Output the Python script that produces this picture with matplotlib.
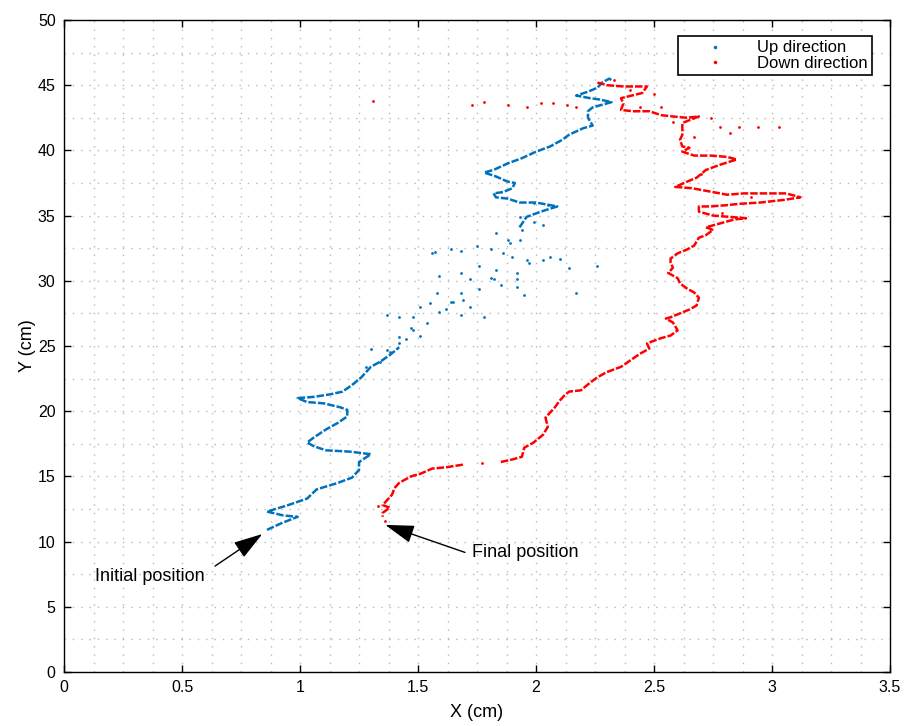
import matplotlib.pyplot as plt
from matplotlib.lines import Line2D

plt.rcParams["font.family"] = ["Liberation Sans", "DejaVu Sans"]

BLUE = "#0072BD"
RED = "#FF0000"

# --- Up direction: continuous parts of the track ---
up_low_x = [0.86, 0.92, 0.99, 0.93, 0.86, 0.95, 1.03, 1.07, 1.16, 1.22, 1.25, 1.25,
            1.30, 1.21, 1.11, 1.06, 1.03, 1.06, 1.11, 1.16, 1.20, 1.20, 1.17, 1.10,
            1.03, 0.99, 1.06, 1.13, 1.18, 1.22, 1.26, 1.30, 1.34, 1.38, 1.42]
up_low_y = [10.9, 11.4, 11.9, 12.0, 12.3, 12.8, 13.3, 14.0, 14.5, 14.9, 15.5, 16.1,
            16.7, 16.9, 17.0, 17.3, 17.6, 18.0, 18.6, 19.1, 19.6, 20.1, 20.3, 20.6,
            20.7, 21.0, 21.1, 21.3, 21.5, 22.0, 22.6, 23.4, 23.8, 24.3, 24.9]

up_high_x = [1.93, 1.96, 2.02, 2.09, 2.00, 1.93, 1.88, 1.83, 1.82, 1.86, 1.90, 1.91,
             1.88, 1.83, 1.78, 1.82, 1.88, 1.94, 2.00, 2.06, 2.11, 2.14, 2.20, 2.24,
             2.22, 2.22, 2.24, 2.30, 2.32, 2.27, 2.23, 2.17, 2.22, 2.26, 2.28, 2.31, 2.32]
up_high_y = [34.1, 34.9, 35.3, 35.7, 36.0, 36.0, 36.3, 36.4, 36.7, 36.8, 37.1, 37.5,
             37.6, 38.0, 38.3, 38.5, 39.0, 39.4, 39.9, 40.3, 40.8, 41.2, 41.7, 41.9,
             42.5, 43.0, 43.3, 43.6, 43.7, 43.9, 44.0, 44.2, 44.5, 44.8, 45.2, 45.5, 45.4]

# --- Up direction: scattered samples ---
up_spread_x = [1.37, 1.38, 1.42, 1.45, 1.47, 1.48, 1.42, 1.51, 1.54, 1.48, 1.42, 1.37,
               1.51, 1.55, 1.59, 1.68, 1.72, 1.78, 1.64, 1.58, 1.68, 1.76, 1.85, 1.92,
               1.95, 1.72, 1.81, 1.68, 1.59, 1.76, 1.83, 1.92, 2.14, 2.26, 2.17, 1.96,
               2.03, 2.10, 1.90, 1.86, 1.81, 1.75, 1.56, 1.64, 1.68, 1.88, 1.93, 1.83,
               1.94, 1.99, 2.03, 1.93, 2.05, 1.99, 1.57, 1.65, 1.69, 1.82, 1.92, 1.62,
               1.30, 1.34, 1.28, 1.97, 1.89, 2.06]
up_spread_y = [24.7, 24.5, 25.2, 25.5, 26.4, 26.2, 25.7, 25.8, 26.8, 27.2, 27.2, 27.4,
               28.0, 28.3, 27.6, 27.4, 28.0, 27.2, 28.4, 29.1, 29.1, 29.4, 29.7, 29.5,
               28.9, 30.1, 30.2, 30.6, 30.4, 31.1, 30.8, 30.6, 31.0, 31.1, 29.1, 31.6,
               31.6, 31.7, 31.8, 32.1, 32.4, 32.7, 32.1, 32.4, 32.3, 33.1, 33.1, 33.7,
               33.9, 34.5, 34.3, 34.9, 35.8, 36.0, 32.2, 28.4, 28.5, 30.1, 30.1, 27.8,
               24.8, 23.8, 23.4, 31.4, 32.9, 31.8]

# --- Down direction: continuous parts of the track ---
down_high_x = [2.26, 2.30, 2.37, 2.43, 2.47, 2.45, 2.36, 2.37, 2.36, 2.41, 2.48, 2.53,
               2.58, 2.64, 2.69, 2.62, 2.62, 2.61, 2.62, 2.65, 2.62, 2.67, 2.74, 2.81,
               2.85, 2.78, 2.72, 2.68, 2.64, 2.59, 2.66, 2.75, 2.81, 2.88, 2.98, 3.06,
               3.12, 3.05, 2.95, 2.86, 2.81, 2.74, 2.69, 2.69, 2.75, 2.82, 2.89, 2.84,
               2.78, 2.72, 2.75, 2.72, 2.69, 2.67, 2.64, 2.60, 2.57, 2.57, 2.58, 2.56,
               2.60, 2.61, 2.64, 2.67, 2.69, 2.68, 2.65, 2.61, 2.57, 2.55, 2.58, 2.60,
               2.57, 2.53, 2.47, 2.48, 2.44, 2.40, 2.36, 2.30, 2.26, 2.23, 2.19, 2.14,
               2.12, 2.10, 2.08, 2.06, 2.04, 2.05, 2.03, 1.99, 1.95, 1.94, 1.90, 1.85]
down_high_y = [45.2, 45.0, 44.9, 44.9, 44.9, 44.4, 44.0, 43.6, 43.1, 43.0, 43.0, 42.7,
               42.6, 42.5, 42.6, 42.1, 41.2, 40.8, 40.3, 40.2, 39.9, 39.6, 39.6, 39.5,
               39.3, 38.9, 38.5, 37.9, 37.6, 37.2, 37.1, 36.8, 36.6, 36.7, 36.7, 36.7,
               36.4, 36.2, 36.0, 35.9, 35.8, 35.7, 35.7, 35.3, 35.0, 34.9, 34.8, 34.7,
               34.4, 34.1, 33.9, 33.5, 33.3, 32.7, 32.4, 32.1, 31.7, 31.4, 31.0, 30.6,
               30.2, 29.8, 29.4, 29.1, 28.7, 28.1, 27.8, 27.5, 27.2, 27.1, 26.8, 26.2,
               25.8, 25.6, 25.2, 24.8, 24.4, 23.9, 23.4, 23.0, 22.6, 22.2, 21.6, 21.5,
               21.2, 20.8, 20.3, 19.9, 19.5, 18.8, 18.2, 17.6, 17.2, 16.5, 16.3, 16.1]

down_low_x = [1.69, 1.62, 1.56, 1.51, 1.47, 1.42, 1.40, 1.39, 1.37, 1.35, 1.38, 1.35, 1.35]
down_low_y = [15.9, 15.7, 15.6, 15.2, 15.0, 14.5, 14.1, 13.6, 13.2, 12.8, 12.6, 12.2, 11.9]

# --- Down direction: scattered samples ---
down_spread_x = [1.31, 1.73, 1.78, 1.88, 1.96, 2.02, 2.07, 2.13, 2.17, 2.50, 2.44, 2.53,
                 2.74, 2.78, 2.86, 2.94, 3.03, 2.82, 2.67, 2.58, 2.70, 2.91, 2.79, 1.77,
                 1.33, 1.36, 2.33, 2.40]
down_spread_y = [43.8, 43.5, 43.7, 43.5, 43.3, 43.6, 43.6, 43.5, 43.3, 44.3, 43.3, 43.3,
                 42.5, 41.8, 41.8, 41.8, 41.8, 41.3, 41.0, 42.2, 38.2, 36.4, 35.2, 16.0,
                 12.7, 11.6, 45.4, 44.6]

fig = plt.figure(figsize=(9.07, 7.26), dpi=100)
ax = fig.add_axes([0.0706, 0.0744, 0.9107, 0.8981])

track = dict(lw=1.8, ls=(0, (3, 0.8)), solid_capstyle="butt")
ax.plot(up_low_x, up_low_y, color=BLUE, **track)
ax.plot(up_high_x, up_high_y, color=BLUE, **track)
ax.plot(up_spread_x, up_spread_y, ".", color=BLUE, ms=4, mew=0)
ax.plot(down_high_x, down_high_y, color=RED, **track)
ax.plot(down_low_x, down_low_y, color=RED, **track)
ax.plot(down_spread_x, down_spread_y, ".", color=RED, ms=4, mew=0)

ax.set_xlim(0, 3.5)
ax.set_ylim(0, 50)
ax.set_xticks([0, 0.5, 1, 1.5, 2, 2.5, 3, 3.5])
ax.set_xticklabels(["0", "0.5", "1", "1.5", "2", "2.5", "3", "3.5"])
ax.set_yticks(range(0, 51, 5))
ax.set_xticks([i * 0.125 for i in range(29)], minor=True)
ax.set_yticks([i * 2.5 for i in range(21)], minor=True)
ax.tick_params(which="major", direction="in", length=5, width=1,
               top=True, right=True, labelsize=11.5, pad=6)
ax.tick_params(which="minor", length=0)
ax.grid(which="both", color="#b8b8b8", lw=1, ls=(0, (1, 5)))
for sp in ax.spines.values():
    sp.set_linewidth(1)
ax.set_xlabel("X (cm)", fontsize=13, labelpad=6)
ax.set_ylabel("Y (cm)", fontsize=13, labelpad=1)

# --- Annotations ---
arrow = dict(arrowstyle="-|>,head_length=0.9,head_width=0.28",
             color="black", lw=1, mutation_scale=20)
ax.annotate("", xy=(0.85, 10.7), xytext=(0.63, 8.0), arrowprops=arrow)
ax.text(0.13, 7.3, "Initial position", ha="left", va="center", fontsize=13)
ax.annotate("", xy=(1.35, 11.35), xytext=(1.71, 9.1), arrowprops=arrow)
ax.text(1.73, 9.2, "Final position", ha="left", va="center", fontsize=13)

# --- Legend ---
handles = [Line2D([], [], ls="none", marker=".", ms=3, color=BLUE),
           Line2D([], [], ls="none", marker=".", ms=3, color=RED)]
leg = ax.legend(handles, ["Up direction", "Down direction"], loc="upper right",
                bbox_to_anchor=(0.978, 0.975), fontsize=12, frameon=True,
                fancybox=False, edgecolor="black", framealpha=1,
                labelspacing=0.05, borderpad=0.25, handlelength=3.9,
                handletextpad=0.6, borderaxespad=0)
leg.get_frame().set_linewidth(1.2)

plt.savefig("out.png", dpi=100, facecolor="white")
